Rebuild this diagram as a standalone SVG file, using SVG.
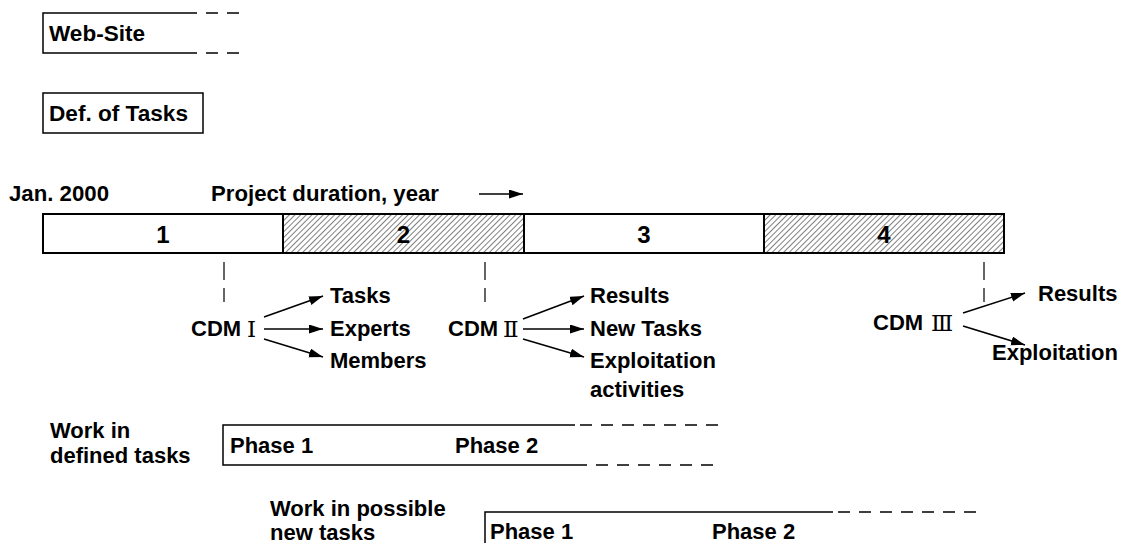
<svg xmlns="http://www.w3.org/2000/svg" width="1125" height="543" viewBox="0 0 1125 543">
  <style>
    text { font-family: "Liberation Sans", Arial, sans-serif; font-weight: bold; font-size: 22px; fill: #000; }
    .num { font-family: "DejaVu Serif", "Liberation Serif", serif; font-weight: normal; font-size: 23px; }
    .year { font-size: 24px; }
    .box { fill: none; stroke: #000; stroke-width: 1.5; }
    .dash { fill: none; stroke: #000; stroke-width: 1.5; stroke-dasharray: 12 9; }
    .tick { fill: none; stroke: #000; stroke-width: 1.2; stroke-dasharray: 18 8; }
    .arrow { fill: none; stroke: #000; stroke-width: 1.6; marker-end: url(#head); }
    .seg { stroke: #000; stroke-width: 2; }
  </style>
  <defs>
    <marker id="head" markerUnits="userSpaceOnUse" markerWidth="16" markerHeight="10" refX="14" refY="4.5" orient="auto">
      <path d="M0,0 L14,4.5 L0,9 z" fill="#000"/>
    </marker>
    <pattern id="hatch" patternUnits="userSpaceOnUse" width="4" height="4" patternTransform="rotate(45)">
      <rect width="4" height="4" fill="#fff"/>
      <line x1="0" y1="0" x2="0" y2="4" stroke="#000" stroke-width="1"/>
    </pattern>
  </defs>

  <!-- Web-Site: open-ended box -->
  <g id="web-site">
    <path class="box" d="M185,13 H43 V53 H185"/>
    <path class="dash" d="M185,13 H242 M185,53 H242"/>
    <text x="49" y="41" textLength="96" lengthAdjust="spacingAndGlyphs">Web-Site</text>
  </g>

  <!-- Definition of tasks -->
  <g id="def-tasks">
    <rect class="box" x="43" y="93" width="160" height="40"/>
    <text x="49" y="121" textLength="139" lengthAdjust="spacingAndGlyphs">Def. of Tasks</text>
  </g>

  <!-- Time axis heading -->
  <g id="axis-label">
    <text x="9" y="201" textLength="100" lengthAdjust="spacingAndGlyphs">Jan. 2000</text>
    <text x="211" y="201" textLength="228" lengthAdjust="spacingAndGlyphs">Project duration, year</text>
  </g>

  <!-- Year bar -->
  <g id="year-bar">
    <rect class="seg" x="43" y="214" width="240" height="39" fill="#fff"/>
    <rect class="seg" x="283" y="214" width="241" height="39" fill="url(#hatch)"/>
    <rect class="seg" x="524" y="214" width="240" height="39" fill="#fff"/>
    <rect class="seg" x="764" y="214" width="240" height="39" fill="url(#hatch)"/>
    <text class="year" x="163" y="243" text-anchor="middle">1</text>
    <text class="year" x="403.5" y="243" text-anchor="middle">2</text>
    <text class="year" x="644" y="243" text-anchor="middle">3</text>
    <text class="year" x="884" y="243" text-anchor="middle">4</text>
  </g>

  <!-- CDM I -->
  <g id="cdm1">
    <text x="191" y="336">CDM</text>
    <text class="num" x="247" y="337">Ⅰ</text>
  </g>
  <g id="cdm1-out">
    <text x="330" y="303">Tasks</text>
    <text x="330" y="336">Experts</text>
    <text x="330" y="368">Members</text>
  </g>

  <!-- CDM II -->
  <g id="cdm2">
    <text x="448" y="336">CDM</text>
    <text class="num" x="503" y="337">Ⅱ</text>
  </g>
  <g id="cdm2-out">
    <text x="590" y="303">Results</text>
    <text x="590" y="336">New Tasks</text>
    <text x="590" y="368">Exploitation</text>
    <text x="590" y="397">activities</text>
  </g>

  <!-- CDM III -->
  <g id="cdm3">
    <text x="873" y="330">CDM</text>
    <text class="num" x="931" y="331">Ⅲ</text>
  </g>
  <g id="cdm3-out">
    <text x="1038" y="301">Results</text>
    <text x="992" y="360">Exploitation</text>
  </g>

  <!-- Work packages -->
  <g id="defined-tasks">
    <text x="50" y="438">Work in</text>
    <text x="50" y="463">defined tasks</text>
    <path class="box" d="M575,425 H223 V465 H575"/>
    <path class="dash" d="M580,425 H720 M575,465 H720"/>
    <text x="230" y="453">Phase 1</text>
    <text x="455" y="453">Phase 2</text>
  </g>

  <g id="new-tasks">
    <text x="270" y="516">Work in possible</text>
    <text x="270" y="540">new tasks</text>
    <path class="box" d="M833,512 H485 V545"/>
    <path class="dash" d="M838,512 H980"/>
    <text x="490" y="539">Phase 1</text>
    <text x="712" y="539">Phase 2</text>
  </g>

  <!-- Connectors -->
  <g id="connectors">
    <line class="arrow" x1="479" y1="194" x2="523" y2="194"/>
    <line class="tick" x1="224" y1="262" x2="224" y2="302"/>
    <line class="tick" x1="485" y1="262" x2="485" y2="302"/>
    <line class="tick" x1="984" y1="262" x2="984" y2="302"/>
    <line class="arrow" x1="264" y1="317" x2="323" y2="296"/>
    <line class="arrow" x1="264" y1="329" x2="323" y2="329"/>
    <line class="arrow" x1="264" y1="339" x2="323" y2="357"/>
    <line class="arrow" x1="523" y1="319" x2="584" y2="296"/>
    <line class="arrow" x1="523" y1="329" x2="584" y2="329"/>
    <line class="arrow" x1="523" y1="339" x2="584" y2="357"/>
    <line class="arrow" x1="963" y1="313" x2="1025" y2="293"/>
    <line class="arrow" x1="963" y1="326" x2="1025" y2="345"/>
  </g>
</svg>
